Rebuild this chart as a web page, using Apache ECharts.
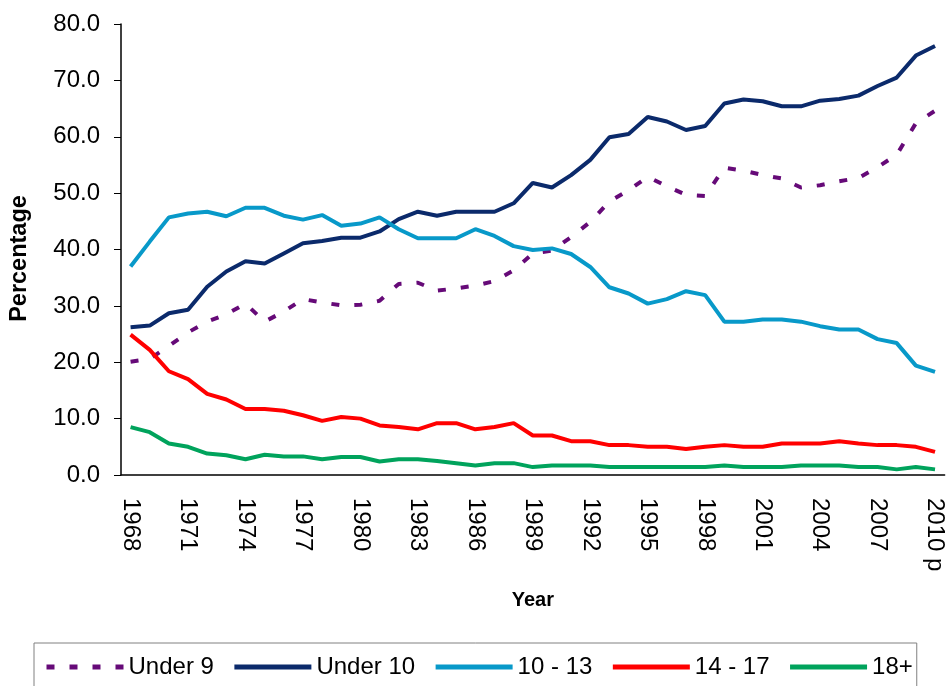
<!DOCTYPE html>
<html>
<head>
<meta charset="utf-8">
<script src="https://cdn.jsdelivr.net/npm/echarts@6/dist/echarts.min.js"></script>
<style>
  html, body { margin: 0; padding: 0; background: #fff; }
  #chart { width: 947px; height: 686px; }
</style>
</head>
<body>
<div id="chart"></div>
<script>
// years on the x axis, last one is provisional
const years = [];
for (let y = 1968; y <= 2009; y++) years.push(String(y));
years.push('2010 p');

const under9 = [20.1, 20.6, 22.9, 25.3, 27.2, 28.5, 30.4, 27.2, 29.0, 31.2,
  30.6, 30.1, 30.2, 30.9, 33.9, 34.1, 32.7, 33.1, 33.6, 34.4,
  36.3, 39.3, 39.8, 42.2, 44.9, 48.5, 50.5, 52.9, 51.2, 49.7,
  49.5, 54.5, 54.0, 53.2, 52.6, 51.0, 51.4, 52.1, 52.7, 54.6,
  56.8, 62.4, 64.6];
const under10 = [26.2, 26.5, 28.7, 29.3, 33.4, 36.1, 37.9, 37.5, 39.3, 41.1,
  41.5, 42.1, 42.1, 43.2, 45.4, 46.7, 46.0, 46.7, 46.7, 46.7,
  48.2, 51.8, 51.0, 53.2, 55.9, 59.9, 60.5, 63.5, 62.7, 61.2,
  61.9, 65.9, 66.6, 66.3, 65.4, 65.4, 66.4, 66.7, 67.3, 69.0,
  70.5, 74.4, 76.1];
const age10to13 = [37.0, 41.4, 45.7, 46.4, 46.7, 45.9, 47.4, 47.4, 46.0, 45.3,
  46.1, 44.2, 44.6, 45.7, 43.6, 42.0, 42.0, 42.0, 43.6, 42.4,
  40.6, 39.9, 40.2, 39.2, 36.9, 33.3, 32.2, 30.4, 31.2, 32.6,
  31.9, 27.2, 27.2, 27.6, 27.6, 27.2, 26.4, 25.8, 25.8, 24.1,
  23.4, 19.4, 18.3];
const age14to17 = [24.9, 22.2, 18.4, 17.0, 14.4, 13.4, 11.7, 11.7, 11.4, 10.6,
  9.6, 10.3, 10.0, 8.8, 8.5, 8.1, 9.2, 9.2, 8.1, 8.5,
  9.2, 7.0, 7.0, 6.0, 6.0, 5.3, 5.3, 5.0, 5.0, 4.6,
  5.0, 5.3, 5.0, 5.0, 5.6, 5.6, 5.6, 6.0, 5.6, 5.3,
  5.3, 5.0, 4.1];
const age18plus = [8.5, 7.6, 5.6, 5.0, 3.8, 3.5, 2.8, 3.6, 3.3, 3.3,
  2.8, 3.2, 3.2, 2.4, 2.8, 2.8, 2.5, 2.1, 1.7, 2.1,
  2.1, 1.4, 1.7, 1.7, 1.7, 1.4, 1.4, 1.4, 1.4, 1.4,
  1.4, 1.7, 1.4, 1.4, 1.4, 1.7, 1.7, 1.7, 1.4, 1.4,
  1.0, 1.4, 1.0];

const font = 'Liberation Sans, Arial, sans-serif';
const chart = echarts.init(document.getElementById('chart'));

function line(name, data, color, dashed) {
  return {
    name: name,
    type: 'line',
    data: data,
    symbol: 'none',
    showSymbol: false,
    animation: false,
    lineStyle: { color: color, width: 4, type: dashed ? [8, 15] : 'solid', cap: 'butt' },
    itemStyle: { color: color }
  };
}

chart.setOption({
  animation: false,
  grid: { left: 121, right: 0, top: 24, bottom: 211, containLabel: false },
  legend: {
    left: 34,
    top: 643,
    itemWidth: 77,
    itemHeight: 5,
    itemGap: 18,
    padding: [12, 4, 30, 10],
    borderColor: '#808080',
    borderWidth: 1,
    itemStyle: { opacity: 0 },
    lineStyle: { width: 5 },
    textStyle: { fontFamily: font, fontSize: 24, color: '#000' },
    data: ['Under 9', 'Under 10', '10 - 13', '14 - 17', '18+']
  },
  xAxis: {
    type: 'category',
    data: years,
    boundaryGap: true,
    name: 'Year',
    nameLocation: 'middle',
    nameGap: 115,
    nameTextStyle: { fontFamily: font, fontSize: 20, fontWeight: 'bold', color: '#000', verticalAlign: 'top' },
    axisLine: { lineStyle: { color: '#000', width: 1.5 } },
    axisTick: { interval: 0, length: 8, lineStyle: { color: '#555' } },
    axisLabel: { interval: 2, rotate: -90, margin: 23, fontFamily: font, fontSize: 24, color: '#000' },
    splitLine: { show: false }
  },
  yAxis: {
    type: 'value',
    min: 0,
    max: 80,
    interval: 10,
    name: 'Percentage',
    nameLocation: 'middle',
    nameGap: 89,
    nameTextStyle: { fontFamily: font, fontSize: 23.5, fontWeight: 'bold', color: '#000', padding: [0, 18, 0, 0] },
    axisLine: { show: true, lineStyle: { color: '#000', width: 1.5 } },
    axisTick: { show: true, length: 7, lineStyle: { color: '#000' } },
    axisLabel: { margin: 21, fontFamily: font, fontSize: 24, color: '#000', formatter: v => v.toFixed(1) },
    splitLine: { show: false }
  },
  series: [
    line('Under 9', under9, '#660a78', true),
    line('Under 10', under10, '#0b2a6b', false),
    line('10 - 13', age10to13, '#0899c9', false),
    line('14 - 17', age14to17, '#ff0000', false),
    line('18+', age18plus, '#00a35c', false)
  ]
});
</script>
</body>
</html>
